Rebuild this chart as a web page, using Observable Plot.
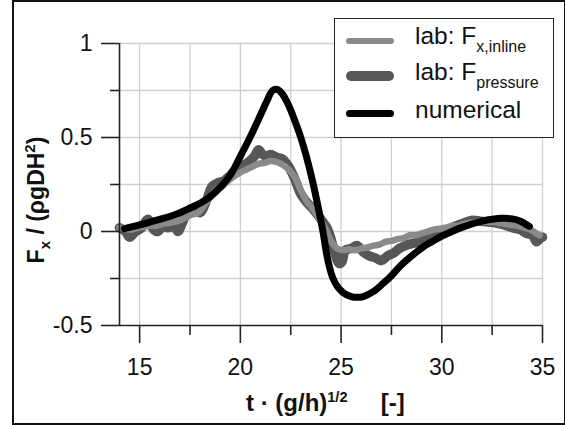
<!DOCTYPE html>
<html>
<head>
<meta charset="utf-8">
<script src="https://cdn.jsdelivr.net/npm/d3@7"></script>
<script src="https://cdn.jsdelivr.net/npm/@observablehq/plot@0.6"></script>
<style>
  html, body { margin: 0; padding: 0; background: #fff; }
  #wrap { position: relative; width: 565px; height: 425px; overflow: hidden; font-family: "Liberation Sans", Arial, sans-serif; color: #111; }
  #wrap svg { position: absolute; left: 0; top: 0; }
  #frame { position: absolute; left: 12px; top: 0px; width: 550px; height: 421px; border: 2px solid #111; pointer-events: none; }
  #legend { position: absolute; left: 334px; top: 18px; width: 218px; height: 118px; border: 1px solid #222; background: #fff; }
  .lg-line { position: absolute; left: 11px; width: 48px; border-radius: 6px; }
  .lg-text { position: absolute; left: 80px; font-size: 24.5px; line-height: 24px; white-space: nowrap; color: #111; }
  .sub { font-size: 16px; position: relative; top: 8px; }
  #xtitle { position: absolute; left: 246px; top: 391px; font-size: 24px; line-height: 24px; font-weight: bold; white-space: pre; color: #111; }
  #xtitle .sup { font-size: 14.5px; position: relative; top: -9px; }
  #ytitle { position: absolute; left: 37px; top: 200px; transform: translate(-50%, -50%) rotate(-90deg); font-size: 23px; line-height: 23px; font-weight: bold; white-space: pre; color: #111; }
  #ytitle .sub2 { font-size: 15px; position: relative; top: 6px; }
  #ytitle .sup2 { font-size: 15px; position: relative; top: -9px; }
</style>
</head>
<body>
<div id="wrap"></div>
<script>
// ---- axis ticks / grid ----
const xTicks = [15, 20, 25, 30, 35];
const xMinorTicks = [17.5, 22.5, 27.5, 32.5];
const xGrid = [15, 17.5, 20, 22.5, 25, 27.5, 30, 32.5, 35];
const yTicks = [-0.5, 0, 0.5, 1];
const yMinorTicks = [-0.25, 0.25, 0.75];
const yGrid = [-0.25, 0, 0.25, 0.5, 0.75, 1];

// ---- lab: F_x,inline (light grey) ----
const tInline = [14.0, 14.3, 14.6, 14.9, 15.2, 15.5, 15.8, 16.1, 16.4, 16.7, 17.0, 17.3, 17.6, 17.9, 18.2, 18.5, 18.8, 19.1, 19.4, 19.7, 20.0, 20.3, 20.6, 20.9, 21.2, 21.5, 21.8, 22.1, 22.4, 22.7, 23.0, 23.3, 23.6, 23.9, 24.2, 24.5, 24.8, 25.1, 25.4, 25.7, 26.0, 26.3, 26.6, 26.9, 27.2, 27.5, 27.8, 28.1, 28.4, 28.7, 29.0, 29.3, 29.6, 29.9, 30.2, 30.5, 30.8, 31.1, 31.4, 31.7, 32.0, 32.3, 32.6, 32.9, 33.2, 33.5, 33.8, 34.1, 34.4, 34.7, 34.85];
const fInline = [0.02, 0.015, 0.01, 0.02, 0.025, 0.03, 0.03, 0.04, 0.045, 0.05, 0.06, 0.075, 0.09, 0.1, 0.14, 0.18, 0.22, 0.24, 0.27, 0.295, 0.315, 0.33, 0.345, 0.36, 0.365, 0.375, 0.37, 0.355, 0.33, 0.29, 0.22, 0.16, 0.12, 0.07, 0.02, -0.05, -0.09, -0.1, -0.095, -0.1, -0.09, -0.085, -0.075, -0.07, -0.055, -0.05, -0.04, -0.035, -0.02, -0.02, -0.01, 0.0, 0.01, 0.015, 0.02, 0.03, 0.03, 0.04, 0.045, 0.05, 0.055, 0.05, 0.05, 0.045, 0.04, 0.035, 0.03, 0.02, 0.01, -0.01, -0.02];

// ---- lab: F_pressure (dark grey) ----
const tPress = [14.0, 14.3, 14.5, 14.8, 15.1, 15.4, 15.7, 15.9, 16.2, 16.4, 16.7, 16.9, 17.1, 17.4, 17.7, 18.0, 18.3, 18.6, 18.9, 19.2, 19.5, 19.8, 20.1, 20.4, 20.7, 20.9, 21.1, 21.3, 21.5, 21.8, 22.1, 22.4, 22.7, 23.0, 23.3, 23.6, 23.9, 24.1, 24.3, 24.5, 24.7, 24.9, 25.05, 25.2, 25.5, 25.8, 26.1, 26.4, 26.7, 27.0, 27.3, 27.6, 27.9, 28.3, 28.7, 29.1, 29.5, 29.9, 30.3, 30.7, 31.1, 31.5, 31.9, 32.3, 32.7, 33.1, 33.5, 33.9, 34.2, 34.5, 34.7, 34.85, 35.0];
const fPress = [0.02, 0.0, -0.03, 0.0, 0.02, 0.065, 0.01, 0.0, 0.03, 0.02, 0.03, 0.0, 0.04, 0.11, 0.12, 0.1, 0.16, 0.24, 0.26, 0.27, 0.3, 0.33, 0.35, 0.37, 0.4, 0.435, 0.41, 0.4, 0.41, 0.395, 0.385, 0.345, 0.28, 0.2, 0.155, 0.12, 0.08, 0.05, 0.02, -0.04, -0.12, -0.17, -0.16, -0.1, -0.09, -0.075, -0.11, -0.13, -0.14, -0.155, -0.13, -0.115, -0.09, -0.07, -0.06, -0.04, -0.025, -0.01, 0.01, 0.03, 0.045, 0.06, 0.055, 0.05, 0.045, 0.035, 0.02, 0.01, -0.01, -0.02, -0.055, -0.04, -0.03];

// ---- numerical (black) ----
const tNum = [14.25, 15.0, 15.5, 16.0, 16.5, 17.0, 17.5, 18.0, 18.5, 19.0, 19.5, 20.0, 20.5, 21.0, 21.3, 21.6, 21.85, 22.1, 22.4, 22.7, 23.0, 23.3, 23.6, 23.9, 24.1, 24.3, 24.45, 24.6, 24.8, 25.1, 25.5, 25.8, 26.1, 26.6, 27.1, 27.5, 28.0, 28.5, 29.1, 29.5, 30.0, 30.5, 31.0, 31.5, 32.0, 32.5, 33.0, 33.5, 33.9, 34.35];
const fNum = [0.015, 0.035, 0.05, 0.065, 0.08, 0.1, 0.125, 0.15, 0.185, 0.235, 0.3, 0.4, 0.505, 0.62, 0.69, 0.75, 0.755, 0.73, 0.67, 0.59, 0.5, 0.39, 0.26, 0.11, 0.0, -0.13, -0.2, -0.25, -0.29, -0.325, -0.346, -0.35, -0.346, -0.32, -0.275, -0.235, -0.177, -0.13, -0.08, -0.055, -0.025, 0.0, 0.022, 0.04, 0.055, 0.065, 0.07, 0.067, 0.055, 0.027];

const colInline = "#8a8a8a";
const colPress = "#575757";
const colNum = "#000000";

const inlineData = tInline.map((t, i) => ({t, f: fInline[i]}));
const pressData = tPress.map((t, i) => ({t, f: fPress[i]}));
const numData = tNum.map((t, i) => ({t, f: fNum[i]}));

const lineOpts = {x: "t", y: "f", curve: "catmull-rom", strokeLinecap: "round", strokeLinejoin: "round"};

const chart = Plot.plot({
  width: 565,
  height: 425,
  marginLeft: 119,
  marginRight: 23,
  marginTop: 43,
  marginBottom: 100,
  style: {fontFamily: "'Liberation Sans', Arial, sans-serif", background: "transparent", color: "#111"},
  x: {domain: [14, 35]},
  y: {domain: [-0.5, 1]},
  marks: [
    Plot.ruleX(xGrid, {stroke: "#cfcfcf", strokeWidth: 1.3}),
    Plot.ruleY(yGrid, {stroke: "#cfcfcf", strokeWidth: 1.3}),
    Plot.line(pressData, {...lineOpts, stroke: colPress, strokeWidth: 9.5}),
    Plot.line(inlineData, {...lineOpts, stroke: colInline, strokeWidth: 6.5}),
    Plot.line(numData, {...lineOpts, stroke: colNum, strokeWidth: 7}),
    Plot.ruleX([14], {stroke: "#222", strokeWidth: 1.6}),
    Plot.ruleY([-0.5], {stroke: "#222", strokeWidth: 1.6}),
    Plot.axisY({ticks: yTicks, tickSize: 18, tickPadding: 9, fontSize: 23, tickFormat: d => String(d), label: null, stroke: "#222", strokeWidth: 1.6, fill: "#111"}),
    Plot.axisY({ticks: yMinorTicks, tickSize: 9, tickFormat: () => "", label: null, stroke: "#222", strokeWidth: 1.6}),
    Plot.axisX({ticks: xTicks, tickSize: 18, tickPadding: 15, fontSize: 23, tickFormat: d => String(d), label: null, stroke: "#222", strokeWidth: 1.6, fill: "#111"}),
    Plot.axisX({ticks: xMinorTicks, tickSize: 10, tickFormat: () => "", label: null, stroke: "#222", strokeWidth: 1.6})
  ]
});

const wrap = document.getElementById("wrap");
wrap.appendChild(chart);

const frame = document.createElement("div");
frame.id = "frame";
wrap.appendChild(frame);

// legend
const legend = document.createElement("div");
legend.id = "legend";
const rows = [
  {color: colInline, h: 6, lineTop: 19, textTop: 5, main: "lab: F", sub: "x,inline"},
  {color: colPress, h: 10, lineTop: 52, textTop: 41, main: "lab: F", sub: "pressure"},
  {color: colNum, h: 7, lineTop: 91, textTop: 79, main: "numerical", sub: null}
];
rows.forEach(r => {
  const ln = document.createElement("div");
  ln.className = "lg-line";
  ln.style.background = r.color;
  ln.style.height = r.h + "px";
  ln.style.top = r.lineTop + "px";
  legend.appendChild(ln);
  const tx = document.createElement("div");
  tx.className = "lg-text";
  tx.style.top = r.textTop + "px";
  tx.appendChild(document.createTextNode(r.main));
  if (r.sub) {
    const s = document.createElement("span");
    s.className = "sub";
    s.textContent = r.sub;
    tx.appendChild(s);
  }
  legend.appendChild(tx);
});
wrap.appendChild(legend);

// axis titles
const xt = document.createElement("div");
xt.id = "xtitle";
xt.innerHTML = 't \u00b7 (g/h)<span class="sup">1/2</span>     [-]';
wrap.appendChild(xt);

const yt = document.createElement("div");
yt.id = "ytitle";
yt.innerHTML = 'F<span class="sub2">x</span> / (\u03c1gDH<span class="sup2">2</span>)';
wrap.appendChild(yt);
</script>
</body>
</html>
